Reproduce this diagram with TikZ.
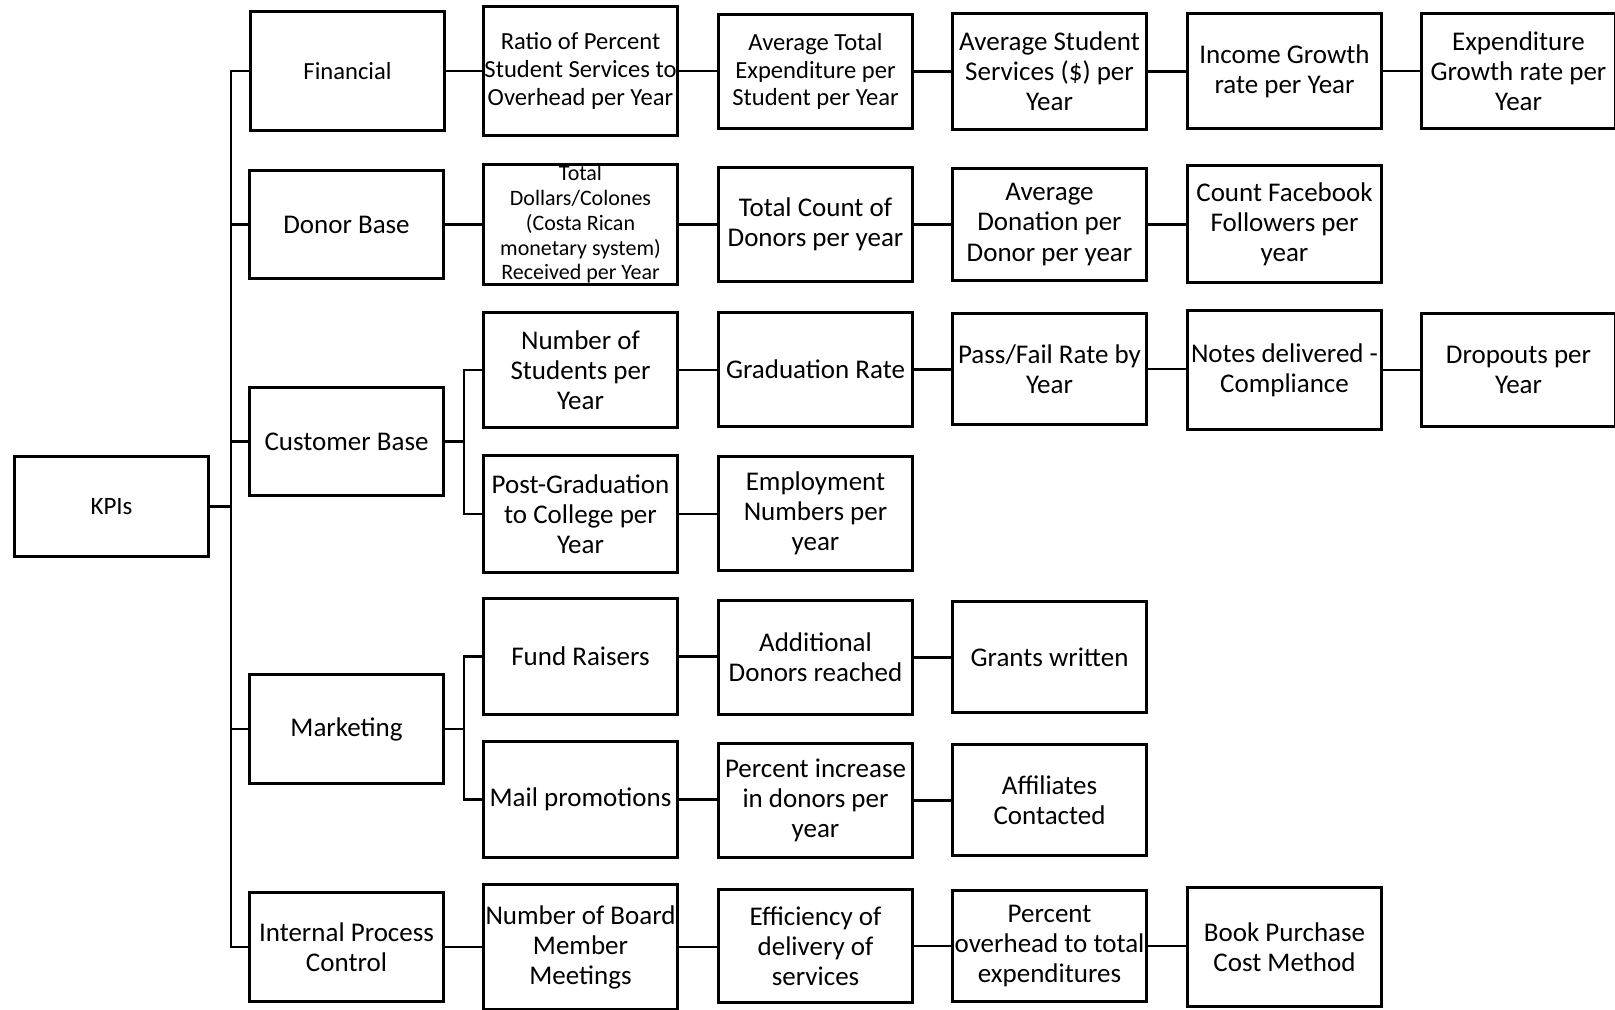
\documentclass[tikz,border=0pt]{standalone}
\usepackage{fontspec}
\setmainfont{Carlito}
\newcommand\fs[2]{\fontsize{#1pt}{#2pt}\selectfont}
% box placed by its outer corners: [options]{name}{x1}{y1}{x2}{y2}{text}
\newcommand\kbox[7][]{%
  \node[box,#1,minimum width={(#5-#3-3)*0.5pt},minimum height={(#6-#4-3)*0.5pt}]
    (#2) at ({(#3+#5)/2},{(#4+#6)/2}) {#7};}
\begin{document}
\begin{tikzpicture}[x=0.5pt,y=-0.5pt,
  box/.style={draw,line width=1.4pt,inner sep=0pt,align=center,font=\fs{13.5}{15}},
  link/.style={line width=1.4pt}]
\useasboundingbox (0,0) rectangle (1615,1009);
\clip (0,0) rectangle (1615,1009);

% root and categories
\kbox[font=\fs{12.5}{15}]{kpi}{13}{455}{210}{558}{KPIs}
\kbox[font=\fs{12.3}{15}]{fin}{249}{10}{446}{132}{Financial}
\kbox{don}{248}{169}{445}{280}{Donor Base}
\kbox{cus}{248}{386}{445}{497}{Customer Base}
\kbox{mkt}{248}{673}{445}{785}{Marketing}
\kbox{ipc}{248}{891}{445}{1003}{Internal Process\\Control}

% financial row
\kbox[font=\fs{12.3}{13.9}]{f1}{482}{5}{679}{137}{Ratio of Percent\\Student Services to\\Overhead per Year}
\kbox[font=\fs{12.3}{13.9}]{f2}{717}{13}{914}{130}{Average Total\\Expenditure per\\Student per Year}
\kbox{f3}{951}{12}{1148}{131}{Average Student\\Services (\$) per\\Year}
\kbox{f4}{1186}{12}{1383}{130}{Income Growth\\rate per Year}
\kbox{f5}{1420}{12}{1617}{130}{Expenditure\\Growth rate per\\Year}

% donor row
\kbox[font=\fs{11}{12.35}]{d1}{482}{163}{679}{286}{Total\\Dollars/Colones\\(Costa Rican\\monetary system)\\Received per Year}
\kbox{d2}{717}{166}{914}{283}{Total Count of\\Donors per year}
\kbox{d3}{951}{167}{1148}{282}{Average\\Donation per\\Donor per year}
\kbox{d4}{1186}{164}{1383}{284}{Count Facebook\\Followers per\\year}

% customer rows
\kbox{c1}{482}{311}{679}{429}{Number of\\Students per\\Year}
\kbox{c2}{717}{311}{914}{428}{Graduation Rate}
\kbox{c3}{951}{312}{1148}{426}{Pass/Fail Rate by\\Year}
\kbox{c4}{1186}{309}{1383}{431}{Notes delivered -\\Compliance}
\kbox{c5}{1420}{312}{1617}{428}{Dropouts per\\Year}
\kbox{c6}{482}{454}{679}{574}{Post-Graduation\\to College per\\Year}
\kbox{c7}{717}{455}{914}{572}{Employment\\Numbers per\\year}

% marketing rows
\kbox{m1}{482}{597}{679}{716}{Fund Raisers}
\kbox{m2}{717}{599}{914}{716}{Additional\\Donors reached}
\kbox{m3}{951}{600}{1148}{714}{Grants written}
\kbox{m4}{482}{740}{679}{859}{Mail promotions}
\kbox{m5}{717}{742}{914}{859}{Percent increase\\in donors per\\year}
\kbox{m6}{951}{743}{1148}{857}{Affiliates\\Contacted}

% internal process row
\kbox[font=\fs{13.5}{15}]{i1}{482}{883}{679}{1011}{Number of Board\\Member\\Meetings}
\kbox{i2}{717}{888}{914}{1004}{Efficiency of\\delivery of\\services}
\kbox{i3}{951}{889}{1148}{1003}{Percent\\overhead to total\\expenditures}
\kbox{i4}{1186}{886}{1383}{1008}{Book Purchase\\Cost Method}

% trunk and sub-branch lines
\coordinate (trunk) at (231,0);
\coordinate (sub) at (464,0);
\draw[link] (kpi.east) -- (kpi.east -| trunk);
\draw[link] (fin.west) -- (fin.west -| trunk) -- (ipc.west -| trunk) -- (ipc.west);
\foreach \n in {don,cus,mkt} \draw[link] (\n.west) -- (\n.west -| trunk);

\draw[link] (cus.east) -- (cus.east -| sub);
\draw[link] (c1.west) -- (c1.west -| sub) -- (c6.west -| sub) -- (c6.west);
\draw[link] (mkt.east) -- (mkt.east -| sub);
\draw[link] (m1.west) -- (m1.west -| sub) -- (m4.west -| sub) -- (m4.west);

% chains along each row
\foreach \a/\b in {fin/f1,f1/f2,f2/f3,f3/f4,f4/f5,
                   don/d1,d1/d2,d2/d3,d3/d4,
                   c1/c2,c2/c3,c3/c4,c4/c5,c6/c7,
                   m1/m2,m2/m3,m4/m5,m5/m6,
                   ipc/i1,i1/i2,i2/i3,i3/i4}
  \draw[link] (\a.east) -- (\a.east -| \b.west);
\end{tikzpicture}
\end{document}
